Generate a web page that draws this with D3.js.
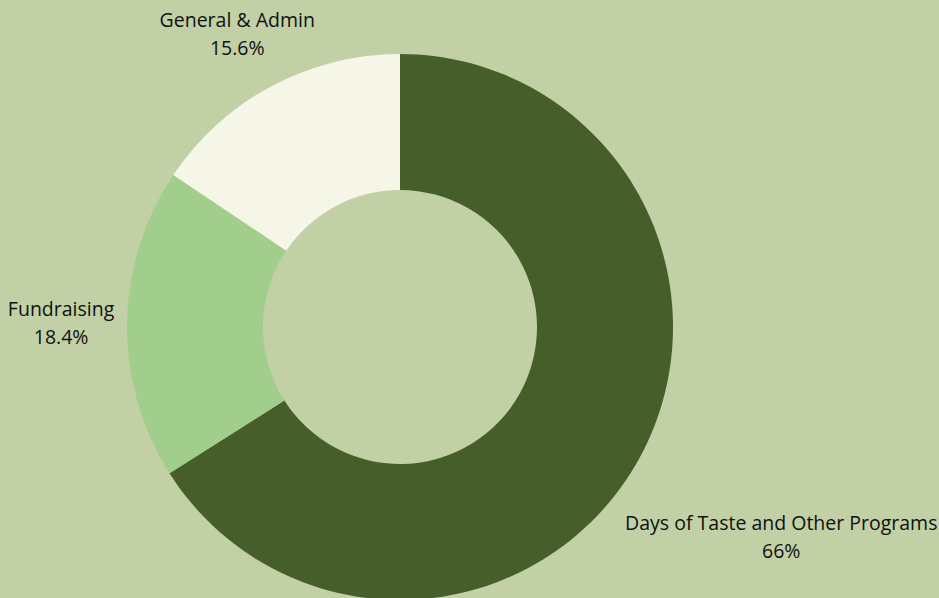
<!DOCTYPE html>
<html><head><meta charset="utf-8">
<script src="https://cdn.jsdelivr.net/npm/d3@7"></script>
<style>
html,body{margin:0;padding:0;background:#C2D0A5;}
svg{display:block;}
</style></head>
<body>
<svg id="chart" width="939" height="598"></svg>
<script>
const categories = ["Days of Taste and Other Programs", "Fundraising", "General & Admin"];
const values = [66, 18.4, 15.6];
const valueLabels = ["66%", "18.4%", "15.6%"];
const colors = ["#465E2A", "#A1CE8A", "#F5F5E8"];

const W = 939, H = 598;
const cx = 400, cy = 327, R = 273, r0 = 137;
const svg = d3.select("#chart");
const g = svg.append("g").attr("transform", `translate(${cx},${cy})`);

const data = categories.map((c, i) => ({name: c, value: values[i], label: valueLabels[i], color: colors[i]}));
const pie = d3.pie().value(d => d.value).sort(null);
const arc = d3.arc().innerRadius(r0).outerRadius(R);
const arcs = pie(data);

g.selectAll("path").data(arcs).join("path")
  .attr("d", arc).attr("fill", d => d.data.color);

const fs = 19.5, lh = 28;
arcs.forEach(a => {
  const mid = (a.startAngle + a.endAngle) / 2;
  const sx = Math.sin(mid), sy = -Math.cos(mid);
  const t = g.append("text").attr("text-anchor", "middle")
    .attr("font-family", "'Open Sans', sans-serif").attr("font-size", fs).attr("fill", "#111");
  t.append("tspan").attr("x", 0).attr("dy", 0).text(a.data.name);
  t.append("tspan").attr("x", 0).attr("dy", lh).text(a.data.label);
  const bb = t.node().getBBox();
  const w = bb.width, h = bb.height;
  const ext = Math.abs(sx) * w / 2 + Math.abs(sy) * h / 2;
  const d = R + 12 + ext;
  let px = sx * d, py = sy * d;
  const top = py - h / 2;
  if (cy + top < 6) py = 6 - cy + h / 2;
  t.attr("transform", `translate(${px - (bb.x + w / 2)},${py - (bb.y + h / 2)})`);
});
</script>
</body></html>
